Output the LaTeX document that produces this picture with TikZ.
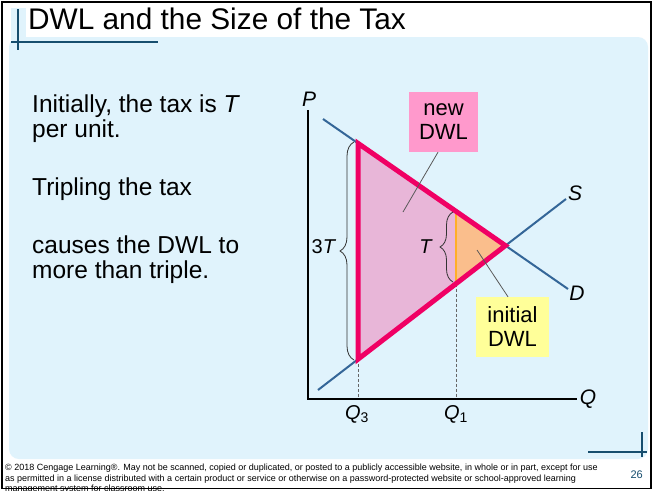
\documentclass[tikz,border=0pt]{standalone}
\usepackage{fontspec}
\setmainfont{Liberation Sans}
\usepackage{tikz,xcolor}
\usetikzlibrary{decorations.pathreplacing, calc}

\definecolor{panelblue}{RGB}{224,243,252}
\definecolor{barblue}{RGB}{23,78,110}
\definecolor{curveblue}{RGB}{52,102,152}
\definecolor{dwlred}{RGB}{240,0,100}
\definecolor{dwlpink}{RGB}{232,182,216}
\definecolor{dwlorange}{RGB}{250,190,140}
\definecolor{edgeorange}{RGB}{255,175,40}
\definecolor{newpink}{RGB}{255,153,204}
\definecolor{inityellow}{RGB}{255,255,153}

\tikzset{
  sdcurve/.style={curveblue, line width=2pt},
  pqaxis/.style={black, line width=1.5pt},
  guide/.style={gray!80!black, dash pattern=on 3pt off 2pt, line width=0.8pt},
  leader/.style={gray!70!black, line width=0.8pt},
  tbrace/.style={decorate, decoration={brace, amplitude=#1}, line width=0.8pt, black!80},
  labelbox/.style={align=center, inner sep=0pt, font=\fontsize{22}{24}\selectfont},
  axislabel/.style={inner sep=0pt, font=\fontsize{21}{24}\selectfont\itshape},
  bodytext/.style={anchor=base west, inner sep=0pt, font=\fontsize{24.5}{29}\selectfont},
  footnote/.style={anchor=base west, inner sep=0pt, font=\fontsize{9}{11}\selectfont},
  barline/.style={barblue, line width=2.5pt}
}

\begin{document}
\begin{tikzpicture}[x=1pt, y=-1pt]
  \useasboundingbox (0,0) rectangle (653,490);
  % Draw the slide frame and panel
  \fill[white] (0,0) rectangle (653,490);
  \fill[panelblue] (11,8) rectangle (26,40);
  \fill[panelblue, rounded corners=10pt] (9,37) rectangle (648,459);
  \draw[barline] (18,9) -- (18,50);
  \draw[barline] (11,42) -- (158,42);
  \draw[barline] (642,432) -- (642,457);
  \draw[barline] (588,452) -- (647,452);

  % Title and text on the left
  \node[anchor=base west, inner sep=0pt, font=\fontsize{29.8}{34}\selectfont] (title) at (28,29) {DWL and the Size of the Tax};
  \node[bodytext] (initline) at (32,112) {Initially, the tax is \textit{T}};
  \node[bodytext] (unitline) at (32,137) {per unit.};
  \node[bodytext] (tripline) at (32,195) {Tripling the tax};
  \node[bodytext] (causeline) at (32,253) {causes the DWL to};
  \node[bodytext] (moreline) at (32,278) {more than triple.};

  % Points of the graph
  \coordinate (O) at (308,399);
  \coordinate (Ptop) at (308,110);
  \coordinate (Qend) at (577,399);
  \coordinate (Dstart) at (323,119);
  \coordinate (Dend) at (568,289);
  \coordinate (Sstart) at (318,390);
  \coordinate (Send) at (566,199);
  \coordinate (E) at (505.4,245.6);
  \coordinate (A3) at (358,143.3);
  \coordinate (B3) at (358,359.2);
  \coordinate (A1) at (456,211.3);
  \coordinate (B1) at (456,283.7);
  \coordinate (Q3foot) at (358,399);
  \coordinate (Q1foot) at (456,399);

  % Draw the DWL areas
  \fill[dwlpink] (A3) -- (E) -- (B3) -- cycle;
  \fill[dwlorange] (A1) -- (E) -- (B1) -- cycle;
  \draw[edgeorange, line width=1.5pt] (A1) -- (B1);
  \draw[guide] (B3) -- (Q3foot);
  \draw[guide] (B1) -- (Q1foot);

  % Draw the axes and the curves
  \draw[pqaxis] (Ptop) -- (O) -- (Qend);
  \draw[sdcurve] (Dstart) -- (Dend);
  \draw[sdcurve] (Sstart) -- (Send);
  \draw[dwlred, line width=5pt, line join=miter] (A3) -- (E) -- (B3) -- cycle;

  % Axis labels
  \node[axislabel] (plabel) at (309,99) {P};
  \node[axislabel] (qlabel) at (588,399) {Q};
  \node[axislabel] (slabel) at (575,193) {S};
  \node[axislabel] (dlabel) at (577,293) {D};
  \node[inner sep=0pt, font=\fontsize{20}{24}\selectfont] (q3label) at (357,414) {\textit{Q}\textsubscript{3}};
  \node[inner sep=0pt, font=\fontsize{20}{24}\selectfont] (q1label) at (456,414) {\textit{Q}\textsubscript{1}};

  % Draw the braces
  \coordinate (b3low) at (354,360);
  \coordinate (b3high) at (354,142);
  \coordinate (b1low) at (453,282);
  \coordinate (b1high) at (453,212);
  \draw[tbrace=14pt] (b3low) -- (b3high);
  \draw[tbrace=13pt] (b1low) -- (b1high);
  \node[inner sep=0pt, font=\fontsize{20}{24}\selectfont] (threet) at (324,247) {3\textit{T}};
  \node[inner sep=0pt, font=\fontsize{20}{24}\selectfont] (onet) at (426,247) {\textit{T}};

  % Label boxes and leaders
  \node[labelbox, fill=newpink, minimum width=69pt, minimum height=60pt] (newdwl) at (443.5,122) {new\\DWL};
  \node[labelbox, fill=inityellow, minimum width=73pt, minimum height=60pt] (initdwl) at (512.5,327) {initial\\DWL};
  \coordinate (newtip) at (403,212);
  \coordinate (inittip) at (477,250);
  \draw[leader] ([xshift=-5.5pt]newdwl.south) -- (newtip);
  \draw[leader] ([xshift=-4.5pt]initdwl.north) -- (inittip);

  % Footer
  \node[footnote] (foot1) at (5,470) {© 2018 Cengage Learning®. May not be scanned, copied or duplicated, or posted to a publicly accessible website, in whole or in part, except for use};
  \node[footnote] (foot2) at (5,481) {as permitted in a license distributed with a certain product or service or otherwise on a password-protected website or school-approved learning};
  \node[footnote] (foot3) at (5,491.5) {management system for classroom use.};
  \node[anchor=base east, inner sep=0pt, font=\fontsize{11}{13}\selectfont, text=barblue] (pagenum) at (643,478) {26};

  % Outer frame
  \draw[black, line width=1.5pt] (2,2) rectangle (651,488.5);
\end{tikzpicture}
\end{document}
